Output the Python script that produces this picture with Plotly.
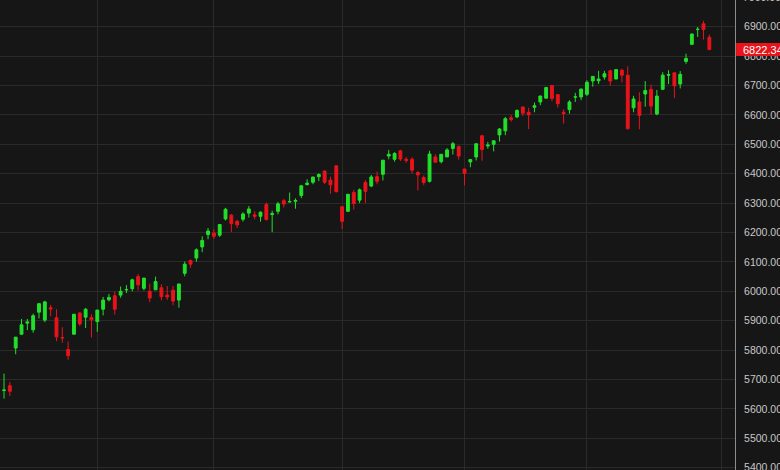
import plotly.graph_objects as go

# daily candles, 8 May 2025 - 30 Oct 2025
dates = [
    "2025-05-08", "2025-05-09", "2025-05-12", "2025-05-13", "2025-05-14", "2025-05-15",
    "2025-05-16", "2025-05-19", "2025-05-20", "2025-05-21", "2025-05-22", "2025-05-23",
    "2025-05-27", "2025-05-28", "2025-05-29", "2025-05-30",
    "2025-06-02", "2025-06-03", "2025-06-04", "2025-06-05", "2025-06-06", "2025-06-09",
    "2025-06-10", "2025-06-11", "2025-06-12", "2025-06-13", "2025-06-16", "2025-06-17",
    "2025-06-18", "2025-06-20", "2025-06-23", "2025-06-24", "2025-06-25", "2025-06-26",
    "2025-06-27", "2025-06-30",
    "2025-07-01", "2025-07-02", "2025-07-03", "2025-07-07", "2025-07-08", "2025-07-09",
    "2025-07-10", "2025-07-11", "2025-07-14", "2025-07-15", "2025-07-16", "2025-07-17",
    "2025-07-18", "2025-07-21", "2025-07-22", "2025-07-23", "2025-07-24", "2025-07-25",
    "2025-07-28", "2025-07-29", "2025-07-30", "2025-07-31",
    "2025-08-01", "2025-08-04", "2025-08-05", "2025-08-06", "2025-08-07", "2025-08-08",
    "2025-08-11", "2025-08-12", "2025-08-13", "2025-08-14", "2025-08-15", "2025-08-18",
    "2025-08-19", "2025-08-20", "2025-08-21", "2025-08-22", "2025-08-25", "2025-08-26",
    "2025-08-27", "2025-08-28", "2025-08-29",
    "2025-09-02", "2025-09-03", "2025-09-04", "2025-09-05", "2025-09-08", "2025-09-09",
    "2025-09-10", "2025-09-11", "2025-09-12", "2025-09-15", "2025-09-16", "2025-09-17",
    "2025-09-18", "2025-09-19", "2025-09-22", "2025-09-23", "2025-09-24", "2025-09-25",
    "2025-09-26", "2025-09-29", "2025-09-30",
    "2025-10-01", "2025-10-02", "2025-10-03", "2025-10-06", "2025-10-07", "2025-10-08",
    "2025-10-09", "2025-10-10", "2025-10-13", "2025-10-14", "2025-10-15", "2025-10-16",
    "2025-10-17", "2025-10-20", "2025-10-21", "2025-10-22", "2025-10-23", "2025-10-24",
    "2025-10-27", "2025-10-28", "2025-10-29", "2025-10-30",
]

open_ = [
    5663, 5679, 5807, 5854, 5896, 5869, 5929, 5902, 5944, 5910, 5842, 5781, 5854, 5926, 5939, 5903,
    5897, 5939, 5979, 5985, 5987, 6005, 6009, 6050, 6010, 6000, 6005, 6012, 5987, 6004, 5970, 6061,
    6105, 6113, 6151, 6193,
    6187, 6191, 6246, 6259, 6238, 6245, 6266, 6255, 6255, 6295, 6261, 6272, 6308, 6304, 6306, 6326,
    6368, 6371, 6397, 6409, 6378, 6427,
    6288, 6272, 6336, 6310, 6370, 6358, 6390, 6398, 6460, 6449, 6478, 6445, 6449, 6404, 6387, 6374,
    6457, 6441, 6457, 6486, 6493,
    6401, 6440, 6457, 6529, 6498, 6500, 6552, 6546, 6590, 6593, 6627, 6609, 6626, 6644, 6657, 6700,
    6669, 6609, 6618, 6661, 6661,
    6670, 6731, 6722, 6729, 6750, 6722, 6752, 6735, 6624, 6598, 6683, 6687, 6603, 6687, 6737, 6743,
    6705, 6782, 6840, 6891, 6910, 6864,
]

high = [
    5720, 5691, 5845, 5906, 5906, 5924, 5959, 5968, 5954, 5939, 5878, 5829, 5922, 5930, 5943, 5922,
    5937, 5981, 5991, 5999, 6016, 6021, 6043, 6059, 6045, 6026, 6050, 6024, 6018, 6018, 6025, 6101,
    6108, 6146, 6187, 6215,
    6211, 6227, 6284, 6263, 6243, 6269, 6290, 6272, 6272, 6302, 6274, 6304, 6315, 6336, 6316, 6360,
    6381, 6390, 6401, 6410, 6390, 6428,
    6288, 6330, 6345, 6350, 6378, 6396, 6407, 6446, 6481, 6473, 6481, 6457, 6456, 6409, 6394, 6478,
    6466, 6466, 6487, 6508, 6495,
    6416, 6450, 6502, 6532, 6508, 6512, 6555, 6593, 6600, 6619, 6627, 6624, 6642, 6666, 6695, 6702,
    6670, 6619, 6650, 6675, 6689,
    6718, 6731, 6750, 6750, 6754, 6754, 6757, 6765, 6665, 6677, 6715, 6703, 6685, 6745, 6752, 6745,
    6749, 6808, 6877, 6899, 6920, 6873,
]

low = [
    5635, 5644, 5786, 5853, 5868, 5859, 5908, 5895, 5915, 5830, 5825, 5767, 5854, 5882, 5875, 5843,
    5862, 5918, 5966, 5921, 5978, 5994, 6000, 6003, 6003, 5963, 6005, 5969, 5971, 5952, 5944, 6051,
    6080, 6101, 6133, 6177,
    6178, 6185, 6241, 6201, 6215, 6237, 6251, 6245, 6237, 6241, 6201, 6262, 6285, 6303, 6281, 6317,
    6360, 6364, 6375, 6365, 6332, 6336,
    6212, 6272, 6278, 6300, 6300, 6354, 6364, 6377, 6449, 6441, 6443, 6437, 6401, 6343, 6361, 6370,
    6438, 6435, 6457, 6465, 6448,
    6360, 6422, 6445, 6444, 6485, 6476, 6509, 6531, 6577, 6589, 6596, 6552, 6609, 6633, 6656, 6647,
    6625, 6570, 6604, 6644, 6650,
    6664, 6696, 6705, 6720, 6699, 6721, 6711, 6551, 6609, 6551, 6628, 6600, 6599, 6686, 6705, 6657,
    6690, 6774, 6839, 6865, 6856, 6820,
]

close = [
    5664, 5660, 5844, 5886, 5892, 5917, 5958, 5964, 5940, 5845, 5842, 5802, 5922, 5889, 5912, 5911,
    5936, 5970, 5971, 5939, 6000, 6006, 6039, 6022, 6045, 5977, 6033, 5982, 5981, 5967, 6025, 6092.18,
    6092.16, 6141, 6173, 6205,
    6198, 6227, 6279, 6230, 6226, 6263, 6280, 6260, 6269, 6244, 6264, 6297.4, 6296.8, 6305, 6309, 6359,
    6363, 6388.6, 6389.8, 6371, 6362, 6339,
    6238, 6330, 6299, 6345, 6340, 6389, 6374, 6446, 6466, 6469, 6450, 6449, 6412, 6396, 6370, 6467,
    6439, 6466, 6481, 6502, 6460,
    6416, 6448, 6502, 6482, 6495, 6512, 6532, 6587, 6584, 6615, 6606, 6600, 6631, 6664, 6693, 6656,
    6638, 6605, 6644, 6661, 6688,
    6711, 6715.35, 6715.79, 6740, 6715, 6754, 6735, 6553, 6654, 6644, 6671, 6630, 6664, 6735.13, 6735.35, 6699,
    6738, 6792, 6875, 6890.9, 6890.6, 6822.34,
]

prev_close_start = 5631  # close before the first candle

# month boundaries (trading-day index), the last one is 3 Nov
month_idx = [16, 36, 58, 79, 100, 123]

UP = "#22e02a"
DOWN = "#e8141a"
BG = "#161616"
GRID = "#2a2a2a"
LABEL = "#c8c8c8"
FONT = "Liberation Sans"

Y_MIN, Y_MAX = 5392.2, 6990.8

# colour each candle by its close vs the previous close
prev = [prev_close_start] + close[:-1]
up_i = [i for i in range(len(close)) if close[i] >= prev[i]]
dn_i = [i for i in range(len(close)) if close[i] < prev[i]]


def candles(idx, color):
    return go.Candlestick(
        x=idx,
        open=[open_[i] for i in idx],
        high=[high[i] for i in idx],
        low=[low[i] for i in idx],
        close=[close[i] for i in idx],
        text=[dates[i] for i in idx],
        increasing=dict(line=dict(color=color, width=1), fillcolor=color),
        decreasing=dict(line=dict(color=color, width=1), fillcolor=color),
        hoverinfo="text+y",
    )


fig = go.Figure([candles(up_i, UP), candles(dn_i, DOWN)])

fig.update_layout(
    width=780,
    height=470,
    margin=dict(l=0, r=45, t=0, b=0, autoexpand=False),
    paper_bgcolor=BG,
    plot_bgcolor=BG,
    showlegend=False,
    font=dict(family=FONT, size=10.5, color=LABEL),
    xaxis=dict(
        rangeslider=dict(visible=False),
        range=[-0.69, 125.4],
        tickvals=month_idx,
        showticklabels=False,
        showgrid=True,
        gridcolor=GRID,
        gridwidth=1,
        zeroline=False,
        ticks="",
        automargin=False,
    ),
    yaxis=dict(
        side="right",
        range=[Y_MIN, Y_MAX],
        dtick=100,
        tickformat=".2f",
        showgrid=True,
        gridcolor=GRID,
        gridwidth=1,
        zeroline=False,
        showline=True,
        linecolor="#8c8c8c",
        linewidth=1,
        ticks="",
        ticklabelstandoff=6,
        ticklabeloverflow="allow",
        tickfont=dict(family=FONT, size=10.5, color=LABEL),
        automargin=False,
    ),
)

# the 7000 label sits just above the top edge and is cut by it
fig.add_annotation(
    x=1, xref="paper", xanchor="left", xshift=6,
    y=(7000 - Y_MIN) / (Y_MAX - Y_MIN), yref="paper", yanchor="middle",
    text="7000.00", showarrow=False,
    font=dict(family=FONT, size=10.5, color=LABEL),
)

# last price tag: red box from the axis line to the right edge
fig.add_shape(
    type="rect", xref="paper", yref="y",
    x0=1.0015, x1=1.07, y0=close[-1] - 22, y1=close[-1] + 22,
    fillcolor=DOWN, line=dict(width=0), layer="above",
)
fig.add_annotation(
    x=1, xref="paper", xanchor="left", xshift=6,
    y=close[-1], yref="y", text=f"{close[-1]:.2f}", showarrow=False,
    font=dict(family=FONT, size=11, color="#ffffff"),
)

# drop the page's default 8px body margin so the chart fills the window
fig.write_html(
    "out.html",
    config={"displayModeBar": False},
    post_script="document.body.style.margin='0';document.body.style.overflow='hidden';",
)
